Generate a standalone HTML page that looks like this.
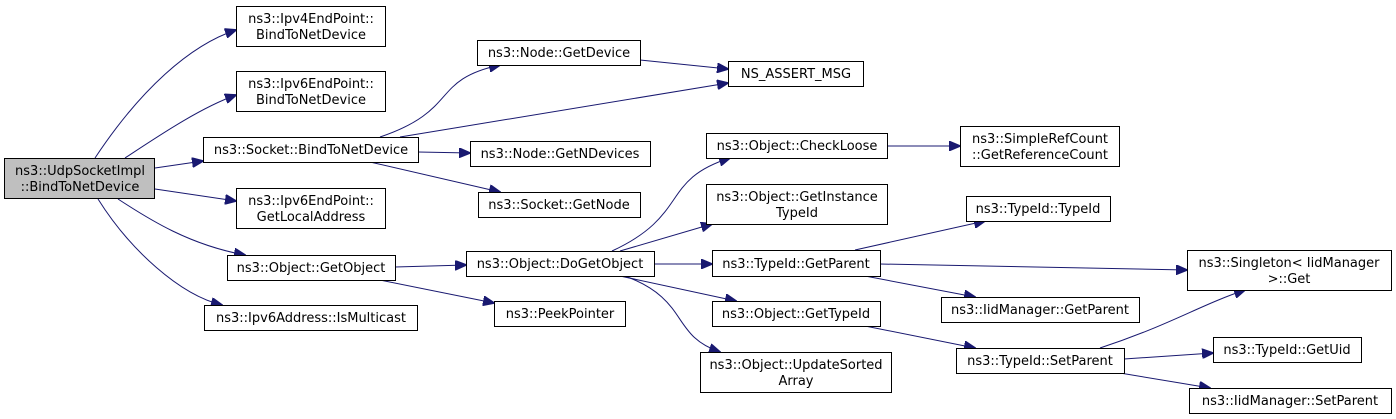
<!DOCTYPE html>
<html><head><meta charset="utf-8"><style>
body{margin:0;background:#fff;}
svg{display:block;}
text{font-family:"DejaVu Sans","Liberation Sans",sans-serif;font-size:13px;fill:#000;text-anchor:middle;}
rect{fill:#fff;stroke:#000;stroke-width:1;}
path{fill:none;stroke:#191970;stroke-width:1;}
</style></head><body>
<svg width="1396" height="419" viewBox="0 0 1396 419" xmlns="http://www.w3.org/2000/svg">
<defs><marker id="a" markerWidth="12" markerHeight="10" refX="11" refY="5" orient="auto" markerUnits="userSpaceOnUse"><path d="M0,0 L12,5 L0,10 Z" style="fill:#191970;stroke:#191970"/></marker></defs>
<g marker-end="url(#a)">
<path d="M95,158 C140,90 190,45 236,30"/>
<path d="M125,158 C160,135 200,108 236,95"/>
<path d="M155,168 L203,161"/>
<path d="M155,189 L236,201"/>
<path d="M118,199 C150,220 190,245 245,255"/>
<path d="M98,199 C130,250 180,295 222,305"/>
<path d="M380,137 C460,110 430,80 500,65"/>
<path d="M400,137 L728,83"/>
<path d="M640,60 L728,69"/>
<path d="M418,152 L470,153"/>
<path d="M370,162 L500,192"/>
<path d="M395,267 L466,265"/>
<path d="M380,280 L494,303"/>
<path d="M612,251 C690,215 660,180 730,158"/>
<path d="M620,251 L712,224"/>
<path d="M654,264 L712,264"/>
<path d="M620,276 L736,301"/>
<path d="M625,276 C690,300 670,335 720,352"/>
<path d="M887,146 L960,146"/>
<path d="M855,250 L985,221"/>
<path d="M880,264 L1187,270"/>
<path d="M865,276 L975,297"/>
<path d="M865,326 L975,348"/>
<path d="M1100,348 C1170,325 1200,305 1245,290"/>
<path d="M1124,359 L1213,353"/>
<path d="M1120,373 L1210,388"/>
</g>
<rect x="4.5" y="158.5" width="150" height="40" style="fill:#bfbfbf"/>
<text x="80" y="175">ns3::UdpSocketImpl</text><text x="80" y="191">::BindToNetDevice</text>
<rect x="236.5" y="6.5" width="149" height="40"/><text x="311" y="23">ns3::Ipv4EndPoint::</text><text x="311" y="39">BindToNetDevice</text>
<rect x="236.5" y="71.5" width="149" height="40"/><text x="311" y="88">ns3::Ipv6EndPoint::</text><text x="311" y="104">BindToNetDevice</text>
<rect x="203.5" y="137.5" width="215" height="25"/><text x="311" y="154">ns3::Socket::BindToNetDevice</text>
<rect x="236.5" y="188.5" width="149" height="40"/><text x="311" y="205">ns3::Ipv6EndPoint::</text><text x="311" y="221">GetLocalAddress</text>
<rect x="227.5" y="255.5" width="168" height="25"/><text x="311" y="272">ns3::Object::GetObject</text>
<rect x="204.5" y="305.5" width="213" height="25"/><text x="311" y="322">ns3::Ipv6Address::IsMulticast</text>
<rect x="477.5" y="40.5" width="163" height="25"/><text x="559" y="57">ns3::Node::GetDevice</text>
<rect x="728.5" y="61.5" width="135" height="25"/><text x="796" y="78">NS_ASSERT_MSG</text>
<rect x="470.5" y="141.5" width="180" height="25"/><text x="560" y="158">ns3::Node::GetNDevices</text>
<rect x="478.5" y="192.5" width="162" height="25"/><text x="559" y="209">ns3::Socket::GetNode</text>
<rect x="466.5" y="251.5" width="188" height="25"/><text x="560" y="268">ns3::Object::DoGetObject</text>
<rect x="494.5" y="301.5" width="131" height="25"/><text x="560" y="318">ns3::PeekPointer</text>
<rect x="706.5" y="133.5" width="181" height="25"/><text x="797" y="150">ns3::Object::CheckLoose</text>
<rect x="706.5" y="184.5" width="181" height="40"/><text x="797" y="201">ns3::Object::GetInstance</text><text x="797" y="217">TypeId</text>
<rect x="712.5" y="250.5" width="168" height="26"/><text x="796" y="268">ns3::TypeId::GetParent</text>
<rect x="712.5" y="301.5" width="168" height="25"/><text x="796" y="318">ns3::Object::GetTypeId</text>
<rect x="700.5" y="352.5" width="191" height="40"/><text x="796" y="369">ns3::Object::UpdateSorted</text><text x="796" y="385">Array</text>
<rect x="960.5" y="126.5" width="159" height="40"/><text x="1040" y="143">ns3::SimpleRefCount</text><text x="1040" y="159">::GetReferenceCount</text>
<rect x="966.5" y="196.5" width="144" height="25"/><text x="1038" y="213">ns3::TypeId::TypeId</text>
<rect x="941.5" y="297.5" width="198" height="25"/><text x="1040" y="314">ns3::IidManager::GetParent</text>
<rect x="956.5" y="348.5" width="168" height="25"/><text x="1040" y="365">ns3::TypeId::SetParent</text>
<rect x="1187.5" y="250.5" width="204" height="40"/><text x="1289" y="267">ns3::Singleton&lt; IidManager</text><text x="1289" y="283">&gt;::Get</text>
<rect x="1213.5" y="337.5" width="148" height="25"/><text x="1287" y="354">ns3::TypeId::GetUid</text>
<rect x="1189.5" y="388.5" width="202" height="25"/><text x="1290" y="405">ns3::IidManager::SetParent</text>
</svg>
</body></html>
